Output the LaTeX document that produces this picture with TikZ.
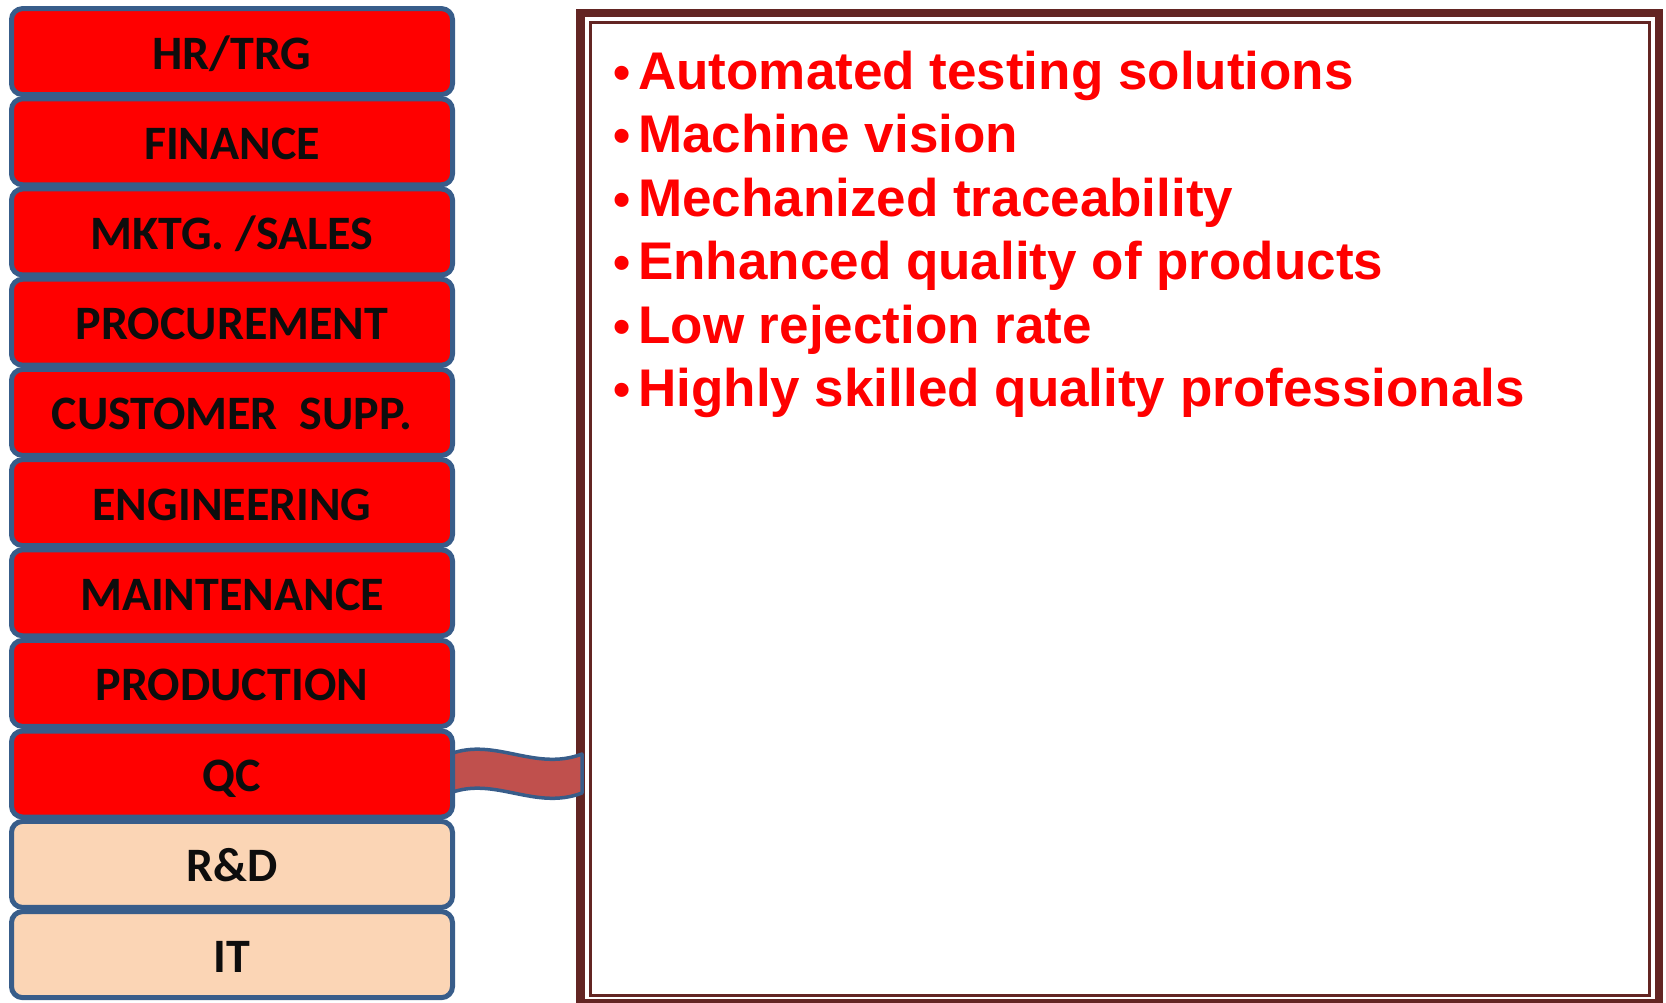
\documentclass[tikz,border=0pt]{standalone}
\usepackage{fontspec}
\newfontfamily\deptfont{Carlito}
\newfontfamily\listfont{Liberation Sans}
\definecolor{deptborder}{HTML}{385D8A}
\definecolor{deptred}{HTML}{FF0000}
\definecolor{deptpeach}{HTML}{FBD5B5}
\definecolor{deptink}{HTML}{0D0D0D}
\definecolor{framecol}{HTML}{632523}
\definecolor{ribbonfill}{HTML}{C0504D}
\definecolor{listred}{HTML}{FF0000}
\newcommand\lbul{{\fontsize{49}{50}\selectfont•}\kern8pt }
\tikzset{
  dept/.style={draw=deptborder, line width=5pt, rounded corners=11pt,
    minimum width=441pt, minimum height=86pt, inner sep=0pt,
    text=deptink, font=\deptfont\bfseries\fontsize{48}{52}\selectfont,
    text height=35pt, text depth=0pt},
  hot/.style={dept, fill=deptred},
  cool/.style={dept, fill=deptpeach},
  item/.style={anchor=base west, inner sep=0pt, text=listred,
    font=\listfont\bfseries\fontsize{53}{60}\selectfont},
  ribbon/.style={draw=deptborder, fill=ribbonfill, line width=3.5pt, line join=round},
  outerframe/.style={draw=framecol, line width=8.5pt},
  innerframe/.style={draw=framecol, line width=3pt}
}
\begin{document}
\begin{tikzpicture}[x=1pt,y=-1pt]
\useasboundingbox (0,0) rectangle (1666,1003);
% frame
\draw[outerframe] (580.5,13) rectangle (1659,1003.5);
\draw[innerframe] (590.5,22.5) rectangle (1649.5,995);
% list
\node[item] (l1) at (612.9,89.2) {\lbul Automated testing solutions};
\node[item] (l2) at (612.9,152.7) {\lbul Machine vision};
\node[item] (l3) at (612.9,216.2) {\lbul Mechanized traceability};
\node[item] (l4) at (612.9,279.7) {\lbul Enhanced quality of products};
\node[item] (l5) at (612.9,343.2) {\lbul Low rejection rate};
\node[item] (l6) at (612.9,406.7) {\lbul Highly skilled quality professionals};
% ribbon
\coordinate (rt) at (582,754);
\coordinate (rb) at (582,793);
\draw[ribbon] (450,754) .. controls (495,737) and (535,772) .. (rt) -- (rb)
  .. controls (535,811) and (495,776) .. (450,793) -- cycle;
% departments
\node[hot]  (hr)   at (232,51.6)  {HR/TRG};
\node[hot]  (fin)  at (232,141.8) {FINANCE};
\node[hot]  (mkt)  at (232,232.0) {MKTG. /SALES};
\node[hot]  (proc) at (232,322.2) {PROCUREMENT};
\node[hot]  (cs)   at (232,412.4) {CUSTOMER\ \ SUPP.};
\node[hot]  (eng)  at (232,502.6) {ENGINEERING};
\node[hot]  (mnt)  at (232,592.8) {MAINTENANCE};
\node[hot]  (prod) at (232,683.4) {PRODUCTION};
\node[hot]  (qc)   at (232,774.0) {QC};
\node[cool] (rd)   at (232,864.4) {R\&D};
\node[cool] (it)   at (232,954.6) {IT};
\end{tikzpicture}
\end{document}
